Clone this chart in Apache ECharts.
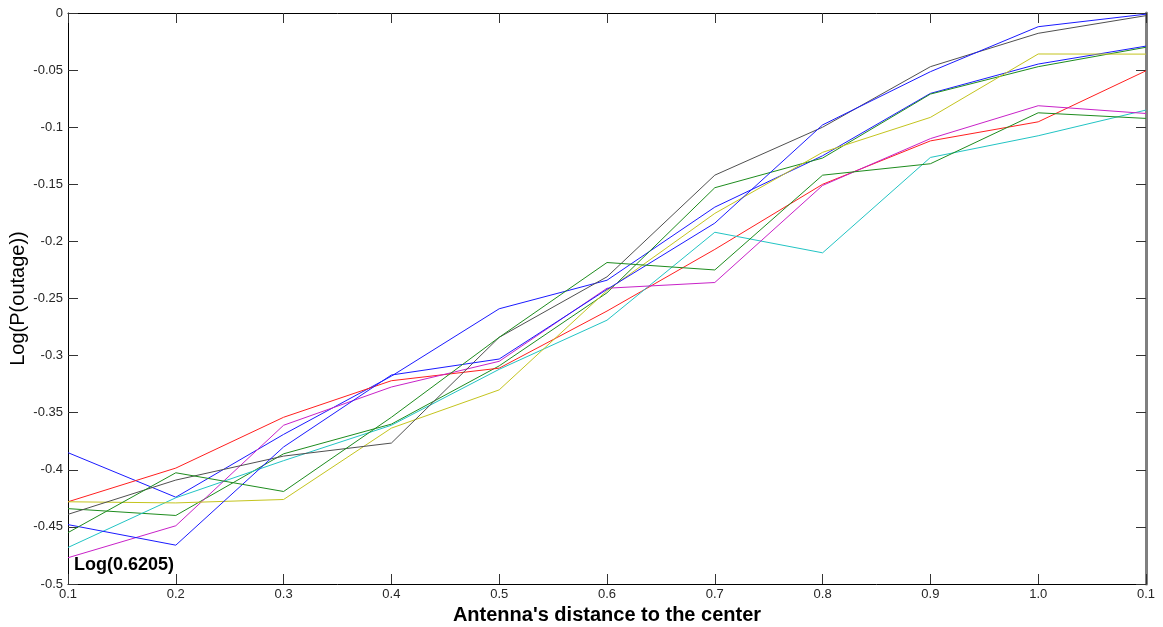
<!DOCTYPE html>
<html>
<head>
<meta charset="utf-8">
<script src="https://cdn.jsdelivr.net/npm/echarts@6/dist/echarts.min.js"></script>
<style>
  html, body { margin: 0; padding: 0; background: #fff; }
  #chart { width: 1163px; height: 627px; }
</style>
</head>
<body>
<div id="chart"></div>
<script>
// Tick labels along the distance axis (one per measurement position)
const xTickLabels = ['0.1', '0.2', '0.3', '0.4', '0.5', '0.6', '0.7', '0.8', '0.9', '1.0', '0.1'];

// Log(P(outage)) for each antenna run, one value per position
const blue1   = [-0.385, -0.424, -0.369, -0.318, -0.259, -0.234, -0.170, -0.125, -0.0704, -0.0447, -0.029];
const green1  = [-0.434, -0.440, -0.386, -0.360, -0.309, -0.245, -0.153, -0.127, -0.071, -0.047, -0.030];
const red     = [-0.428, -0.3985, -0.354, -0.322, -0.311, -0.261, -0.207, -0.150, -0.112, -0.0953, -0.0506];
const cyan    = [-0.468, -0.4245, -0.392, -0.361, -0.312, -0.269, -0.192, -0.210, -0.1265, -0.1075, -0.085];
const magenta = [-0.477, -0.449, -0.361, -0.3275, -0.305, -0.241, -0.236, -0.151, -0.110, -0.0812, -0.088];
const yellow  = [-0.428, -0.429, -0.426, -0.3635, -0.330, -0.243, -0.1755, -0.122, -0.0914, -0.0359, -0.036];
const black   = [-0.439, -0.409, -0.388, -0.3766, -0.284, -0.231, -0.142, -0.100, -0.047, -0.0178, -0.0023];
const blue2   = [-0.448, -0.466, -0.380, -0.317, -0.303, -0.242, -0.184, -0.098, -0.0514, -0.012, -0.001];
const green2  = [-0.455, -0.4026, -0.419, -0.354, -0.284, -0.2185, -0.225, -0.142, -0.132, -0.0874, -0.0923];

const runs = [
  { data: blue1,   color: '#1a1aff' },
  { data: green1,  color: '#1e8c1e' },
  { data: red,     color: '#ff1f1f' },
  { data: cyan,    color: '#22c4c4' },
  { data: magenta, color: '#c822c8' },
  { data: yellow,  color: '#c4c41e' },
  { data: black,   color: '#505050' },
  { data: blue2,   color: '#1a1aff' },
  { data: green2,  color: '#1e8c1e' }
];

const fontFamily = "'Liberation Sans', Arial, sans-serif";
const chart = echarts.init(document.getElementById('chart'), null, { renderer: 'canvas' });

const yTickFmt = v => {
  if (Math.abs(v) < 1e-9) return '0';
  return String(Math.round(v * 100) / 100);
};

chart.setOption({
  animation: false,
  backgroundColor: '#ffffff',
  grid: { left: 68, right: 17, top: 13, bottom: 43, containLabel: false, outerBoundsMode: 'none' },
  xAxis: [
    {
      type: 'value', min: 0, max: 10, interval: 1,
      name: "Antenna's distance to the center",
      nameLocation: 'middle', nameGap: 21,
      nameTextStyle: { fontFamily, fontSize: 20, fontWeight: 'bold', color: '#000' },
      axisLine: { show: true, onZero: false, lineStyle: { color: '#000', width: 1 } },
      axisTick: { show: true, inside: true, length: 10, lineStyle: { color: '#333' } },
      axisLabel: {
        fontFamily, fontSize: 13, color: '#262626', margin: 4,
        formatter: v => xTickLabels[Math.round(v)]
      },
      splitLine: { show: false }
    },
    {
      type: 'value', min: 0, max: 10, interval: 1, position: 'top',
      axisLine: { show: true, onZero: false, lineStyle: { color: '#000', width: 1 } },
      axisTick: { show: true, inside: true, length: 10, lineStyle: { color: '#333' } },
      axisLabel: { show: false },
      splitLine: { show: false }
    }
  ],
  yAxis: [
    {
      type: 'value', min: -0.5, max: 0, interval: 0.05,
      name: 'Log(P(outage))',
      nameLocation: 'middle', nameGap: 40, nameRotate: 90,
      nameMoveOverlap: false,
      nameTextStyle: { fontFamily, fontSize: 20, color: '#000' },
      axisLine: { show: true, onZero: false, lineStyle: { color: '#000', width: 1 } },
      axisTick: { show: true, inside: true, length: 10, lineStyle: { color: '#333' } },
      axisLabel: { fontFamily, fontSize: 13, color: '#262626', margin: 5, formatter: yTickFmt },
      splitLine: { show: false }
    },
    {
      type: 'value', min: -0.5, max: 0, interval: 0.05, position: 'right',
      axisLine: { show: true, onZero: false, lineStyle: { color: '#808080', width: 3 } },
      axisTick: { show: true, inside: true, length: 10, lineStyle: { color: '#333' } },
      axisLabel: { show: false },
      splitLine: { show: false }
    }
  ],
  series: runs.map(r => ({
    type: 'line',
    xAxisIndex: 0,
    yAxisIndex: 0,
    data: r.data.map((v, i) => [i, v]),
    symbol: 'none',
    smooth: false,
    lineStyle: { color: r.color, width: 1 },
    itemStyle: { color: r.color },
    emphasis: { disabled: true }
  })),
  graphic: [
    {
      type: 'text',
      left: 74, top: 556,
      style: {
        text: 'Log(0.6205)',
        fontFamily, fontSize: 18, fontWeight: 'bold', fill: '#000'
      }
    }
  ]
});
</script>
</body>
</html>
